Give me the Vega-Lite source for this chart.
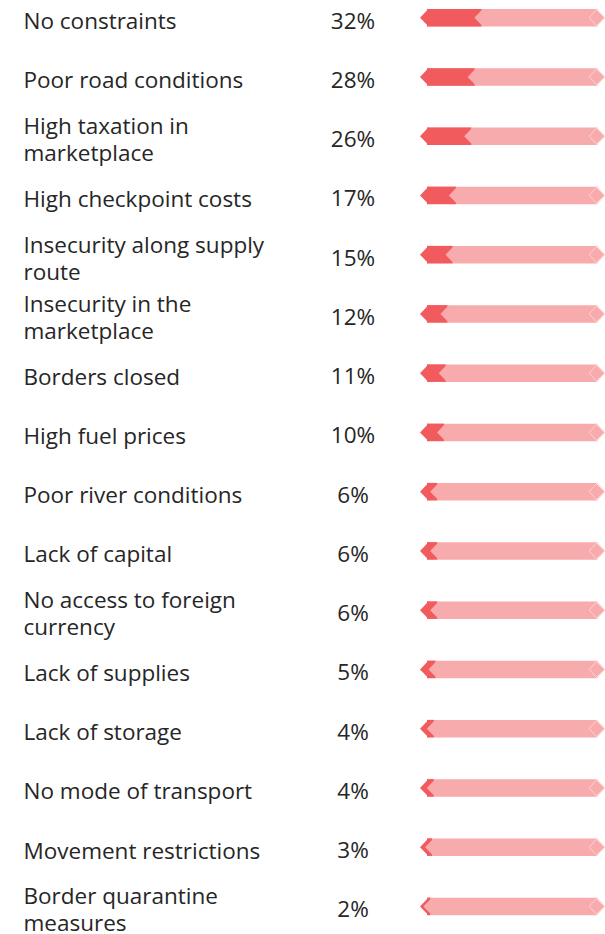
{
  "$schema": "https://vega.github.io/schema/vega-lite/v6.json",
  "autosize": {"type": "pad"},
  "padding": {"left": 23, "top": -8, "right": -1, "bottom": -6},
  "bounds": "flush",
  "spacing": 21,
  "config": {
    "view": {"stroke": null},
    "font": "Open Sans",
    "axis": {"grid": false}
  },
  "data": {
    "values": [
      {"label": "No constraints", "value": 0.32},
      {"label": "Poor road conditions", "value": 0.28},
      {"label": "High taxation in\nmarketplace", "value": 0.26},
      {"label": "High checkpoint costs", "value": 0.17},
      {"label": "Insecurity along supply\nroute", "value": 0.15},
      {"label": "Insecurity in the\nmarketplace", "value": 0.12},
      {"label": "Borders closed", "value": 0.11},
      {"label": "High fuel prices", "value": 0.10},
      {"label": "Poor river conditions", "value": 0.06},
      {"label": "Lack of capital", "value": 0.06},
      {"label": "No access to foreign\ncurrency", "value": 0.06},
      {"label": "Lack of supplies", "value": 0.05},
      {"label": "Lack of storage", "value": 0.04},
      {"label": "No mode of transport", "value": 0.04},
      {"label": "Movement restrictions", "value": 0.03},
      {"label": "Border quarantine\nmeasures", "value": 0.02}
    ]
  },
  "hconcat": [
    {
      "width": 106,
      "height": 948,
      "mark": {"type": "text", "fontSize": 22.5, "color": "#262626", "font": "Open Sans"},
      "encoding": {
        "y": {
          "field": "label",
          "type": "nominal",
          "sort": null,
          "scale": {"paddingInner": 0, "paddingOuter": 0},
          "axis": {
            "title": null,
            "ticks": false,
            "tickSize": 0,
            "domain": false,
            "labelAlign": "left",
            "labelPadding": 277,
            "labelFontSize": 22.5,
            "labelFont": "Open Sans",
            "labelColor": "#262626",
            "labelLineHeight": 27,
            "labelLimit": 0,
            "labelOffset": {"condition": {"test": "indexof(datum.value, '\\n') >= 0", "value": -13.5}, "value": 0},
            "labelExpr": "split(datum.label, '\\n')"
          }
        },
        "text": {"field": "value", "type": "quantitative", "format": ".0%"}
      }
    },
    {
      "width": 170,
      "height": 948,
      "encoding": {
        "y": {
          "field": "label",
          "type": "nominal",
          "sort": null,
          "scale": {"paddingInner": 0, "paddingOuter": 0},
          "axis": null
        }
      },
      "layer": [
        {
          "mark": {"type": "bar", "height": 17.5, "yOffset": -4, "color": "#F8ABAC"},
          "encoding": {
            "x": {"datum": 1, "type": "quantitative", "scale": {"domain": [0, 1], "nice": false}, "axis": null}
          }
        },
        {
          "mark": {"type": "bar", "height": 17.5, "yOffset": -4, "color": "#F15B5E"},
          "encoding": {
            "x": {"field": "value", "type": "quantitative"}
          }
        },
        {
          "mark": {"type": "point", "shape": "M 0.15 -1 L -0.8 0 L 0.15 1 Z", "size": 306, "filled": true, "opacity": 1, "strokeWidth": 0, "color": "#F15B5E", "yOffset": -4},
          "encoding": {
            "x": {"datum": 0, "type": "quantitative"}
          }
        },
        {
          "mark": {"type": "point", "shape": "M 0.15 -1 L -0.8 0 L 0.15 1 Z", "size": 306, "filled": true, "opacity": 1, "strokeWidth": 0, "color": "#F8ABAC", "yOffset": -4},
          "encoding": {
            "x": {"field": "value", "type": "quantitative"}
          }
        },
        {
          "mark": {"type": "point", "shape": "M -0.15 -1 L 0.85 0 L -0.15 1 Z", "size": 306, "filled": true, "opacity": 1, "strokeWidth": 0, "color": "#F8ABAC", "yOffset": -4},
          "encoding": {
            "x": {"datum": 1, "type": "quantitative"}
          }
        },
        {
          "mark": {"type": "point", "shape": "M -0.88 0 L 0 -1 L 0.88 0 L 0 1 Z", "size": 306, "filled": false, "opacity": 1, "strokeWidth": 1, "color": "#FCD2D2", "yOffset": -4},
          "encoding": {
            "x": {"datum": 1, "type": "quantitative"}
          }
        }
      ]
    }
  ]
}
